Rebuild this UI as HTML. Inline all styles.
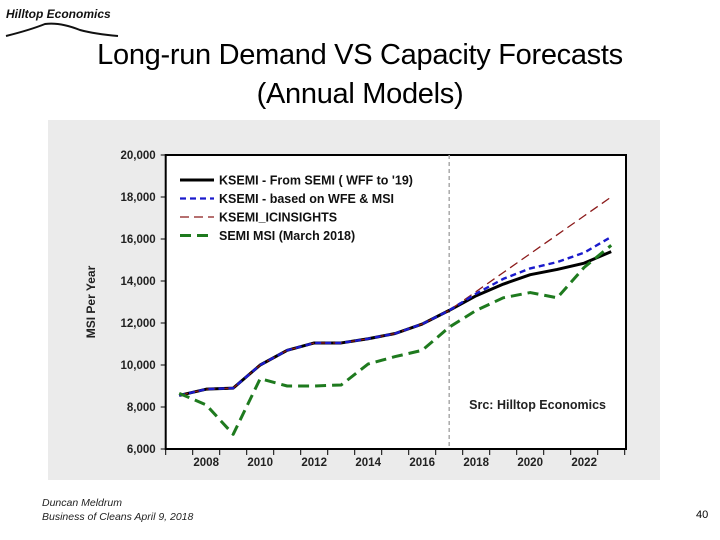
<!DOCTYPE html>
<html><head><meta charset="utf-8"><style>
body{margin:0;width:720px;height:540px;background:#fff;overflow:hidden;position:relative;font-family:"Liberation Sans",sans-serif}
.t{position:absolute;left:0;width:720px;text-align:center;font-size:29px;color:#000;letter-spacing:-0.3px}
.f{position:absolute;font-size:10.5px;font-style:italic;color:#222}
</style></head><body>
<div style="position:absolute;left:6px;top:7px;font-size:12px;font-style:italic;font-weight:bold;color:#111">Hilltop Economics</div>
<svg style="position:absolute;left:0;top:20px" width="130" height="20"><path d="M6 16 Q30 10 45 4 Q60 2 80 10 Q95 14 118 16" stroke="#111" stroke-width="2" fill="none"/></svg>
<div class="t" style="top:39px">Long-run Demand VS Capacity Forecasts</div>
<div class="t" style="top:78px">(Annual Models)</div>
<svg id="c" style="position:absolute;left:0;top:0" width="720" height="540"></svg>
<div class="f" style="left:42px;top:497px">Duncan Meldrum</div>
<div class="f" style="left:42px;top:511px">Business of Cleans April 9, 2018</div>
<div style="position:absolute;left:696px;top:509px;font-size:11px">40</div>
<script>
const years=[2007,2008,2009,2010,2011,2012,2013,2014,2015,2016,2017,2018,2019,2020,2021,2022,2023];
const ksemi=[8550,8850,8900,10000,10700,11050,11050,11250,11500,11950,12600,13300,13850,14300,14550,14850,15400];
const ksemiWfe=[8550,8850,8900,10000,10700,11050,11050,11250,11500,11950,12600,13400,14100,14600,14900,15350,16100];
const icinsights=[8550,8850,8900,10000,10700,11050,11050,11250,11500,11950,12600,13500,14400,15300,16200,17100,18000];
const semiMsi=[8650,8100,6700,9350,9000,9000,9050,10050,10400,10700,11800,12600,13200,13450,13200,14650,15700];
const yTicks=[6000,8000,10000,12000,14000,16000,18000,20000];
const xLabels=[2008,2010,2012,2014,2016,2018,2020,2022];
const svg=document.getElementById('c');const NS='http://www.w3.org/2000/svg';
const L=165.7,R=626,T=155,B=449,Y0=2007,W=27;
const x=v=>L+(v-Y0+0.5)*W, y=v=>B-(v-6000)/14000*(B-T);
function mk(t,a,p){const e=document.createElementNS(NS,t);for(const k in a)e.setAttribute(k,a[k]);(p||svg).appendChild(e);return e;}
let e=mk('rect',{x:48,y:120,width:612,height:360,fill:'#ebebeb'});

e=mk('rect',{x:L,y:T,width:R-L,height:B-T,fill:'#fff',stroke:'#000','stroke-width':2});

yTicks.forEach(v=>{mk('line',{x1:L-5,x2:L,y1:y(v),y2:y(v),stroke:'#000'});
e=mk('text',{x:L-10,y:y(v)+4,'text-anchor':'end','font-size':11.5,'font-weight':'bold',fill:'#222'});e.textContent=v.toLocaleString('en-US');
});
for(let i=0;i<=17;i++)mk('line',{x1:L+i*W,x2:L+i*W,y1:B,y2:B+6,stroke:'#000'});
xLabels.forEach(v=>{e=mk('text',{x:x(v),y:B+17,'text-anchor':'middle','font-size':11.5,'font-weight':'bold',fill:'#222'});e.textContent=v;
});
e=mk('text',{x:95,y:(T+B)/2,'text-anchor':'middle','font-size':12,'font-weight':'bold',fill:'#222',transform:`rotate(-90 95 ${(T+B)/2})`});e.textContent='MSI Per Year';

e=mk('line',{x1:x(2017),x2:x(2017),y1:T,y2:B,stroke:'#aaa','stroke-width':1.5,'stroke-dasharray':'4,3'});

const series=[[ksemi,'#000',3,'','ksemi-line'],[icinsights,'#8b1a1a',1.3,'9,5','icinsights-line'],[ksemiWfe,'#1a1acc',2.4,'6,4','ksemi-wfe-line'],[semiMsi,'#1e7a1e',3,'11,6','semi-msi-line']];
series.forEach(s=>{const d=s[0].map((v,i)=>(i?'L':'M')+x(years[i])+' '+y(v)).join(' ');
e=mk('path',{d:d,fill:'none',stroke:s[1],'stroke-width':s[2],'stroke-dasharray':s[3],'stroke-linejoin':'round'});
});
const leg=[['KSEMI - From SEMI ( WFF to \'19)','#000',3,''],['KSEMI - based on WFE & MSI','#1a1acc',2.2,'6,4'],['KSEMI_ICINSIGHTS','#8b1a1a',1.3,'9,5'],['SEMI MSI (March 2018)','#1e7a1e',3,'11,6']];
leg.forEach((l,i)=>{const yy=180+i*18.5;const g=mk('g',{});

mk('line',{x1:180,x2:214,y1:yy,y2:yy,stroke:l[1],'stroke-width':l[2],'stroke-dasharray':l[3]},g);
const t=mk('text',{x:219,y:yy+4.5,'font-size':12.5,'font-weight':'bold',fill:'#111'},g);t.textContent=l[0];});
e=mk('text',{x:606,y:409,'text-anchor':'end','font-size':12.5,'font-weight':'bold',fill:'#222'});e.textContent='Src: Hilltop Economics';

</script>
</body></html>
